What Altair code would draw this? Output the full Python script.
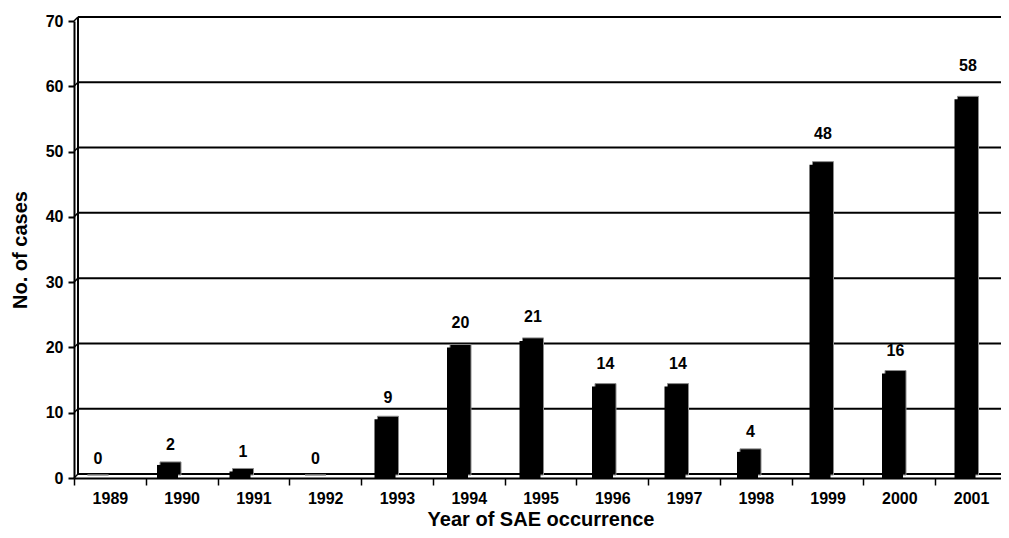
import altair as alt
import pandas as pd

years = ["1989", "1990", "1991", "1992", "1993", "1994", "1995",
         "1996", "1997", "1998", "1999", "2000", "2001"]
cases = [0, 2, 1, 0, 9, 20, 21, 14, 14, 4, 48, 16, 58]
y_ticks = [0, 10, 20, 30, 40, 50, 60, 70]

W, H = 927, 457
FULL_W = 933
FONT = "Liberation Sans"
DEPTH = 4

bars = pd.DataFrame({"year": years, "cases": cases})
grid = pd.DataFrame({"t": y_ticks})

yscale = alt.Scale(domain=[0, 70], nice=False, zero=True)
axis_x = alt.Scale(domain=years, range=[0, FULL_W], paddingInner=0, paddingOuter=0)
bar_x = alt.Scale(domain=years, range=[-15.25, 927.25], paddingInner=0, paddingOuter=0)

axis_layer = alt.Chart(bars).mark_point(opacity=0).encode(
    x=alt.X("year:N", sort=years, scale=axis_x,
            axis=alt.Axis(title="Year of SAE occurrence", tickBand="extent",
                          labelAngle=0, labelFontSize=16, labelFontWeight="bold",
                          labelFont=FONT, labelColor="black", labelPadding=5,
                          titleFontSize=20, titleFontWeight="bold", titleFont=FONT,
                          titleColor="black", titlePadding=3,
                          domainColor="black", domainWidth=2,
                          tickColor="black", tickWidth=1.5, tickSize=7)),
    y=alt.Y("cases:Q", scale=yscale,
            axis=alt.Axis(title="No. of cases", values=y_ticks, grid=False,
                          labelFontSize=16, labelFontWeight="bold", labelFont=FONT,
                          labelColor="black", labelPadding=5,
                          titleFontSize=20, titleFontWeight="bold", titleFont=FONT,
                          titleColor="black", titlePadding=15,
                          domainColor="black", domainWidth=2,
                          tickColor="black", tickWidth=2, tickSize=6)),
)

grid_layer = alt.Chart(grid).mark_rule(color="black", strokeWidth=2, yOffset=-DEPTH).encode(
    y=alt.Y("t:Q", scale=yscale),
    x=alt.value(DEPTH),
    x2=alt.value(FULL_W),
)

diag_layer = alt.Chart(grid).mark_rule(color="black", strokeWidth=1.5, y2Offset=-DEPTH).encode(
    y=alt.Y("t:Q", scale=yscale),
    y2="t:Q",
    x=alt.value(0),
    x2=alt.value(DEPTH),
)

wall_layer = alt.Chart(grid).mark_rule(color="black", strokeWidth=2,
                                       yOffset=-DEPTH, y2Offset=-DEPTH).encode(
    y=alt.datum(70, scale=yscale),
    y2=alt.datum(0),
    x=alt.value(DEPTH),
)

back_bars = alt.Chart(bars).mark_bar(size=21, color="black", stroke="#8c8c8c",
                                     strokeWidth=1, xOffset=3, yOffset=-3).encode(
    x=alt.X("year:N", sort=years, scale=bar_x, axis=None),
    y=alt.Y("cases:Q", scale=yscale),
)

front_bars = alt.Chart(bars).mark_bar(size=21, color="black").encode(
    x=alt.X("year:N", sort=years, scale=bar_x, axis=None),
    y=alt.Y("cases:Q", scale=yscale),
)

labels = alt.Chart(bars).transform_calculate(
    lab="datum.cases * 1.038"
).mark_text(dy=-19, baseline="middle", align="center",
            fontSize=16, fontWeight="bold", font=FONT,
            color="black", xOffset=3).encode(
    x=alt.X("year:N", sort=years, scale=bar_x, axis=None),
    y=alt.Y("lab:Q", scale=yscale),
    text="cases:Q",
)

chart = alt.layer(
    axis_layer, grid_layer, diag_layer, wall_layer, back_bars, front_bars, labels
).resolve_scale(x="independent").properties(
    width=W, height=H,
    autosize=alt.AutoSizeParams(type="none"),
    padding={"left": 66, "top": 13, "right": 0, "bottom": 52},
    background="white",
).configure_view(stroke=None)

chart.save("out.html", embed_options={"renderer": "svg", "actions": False})
